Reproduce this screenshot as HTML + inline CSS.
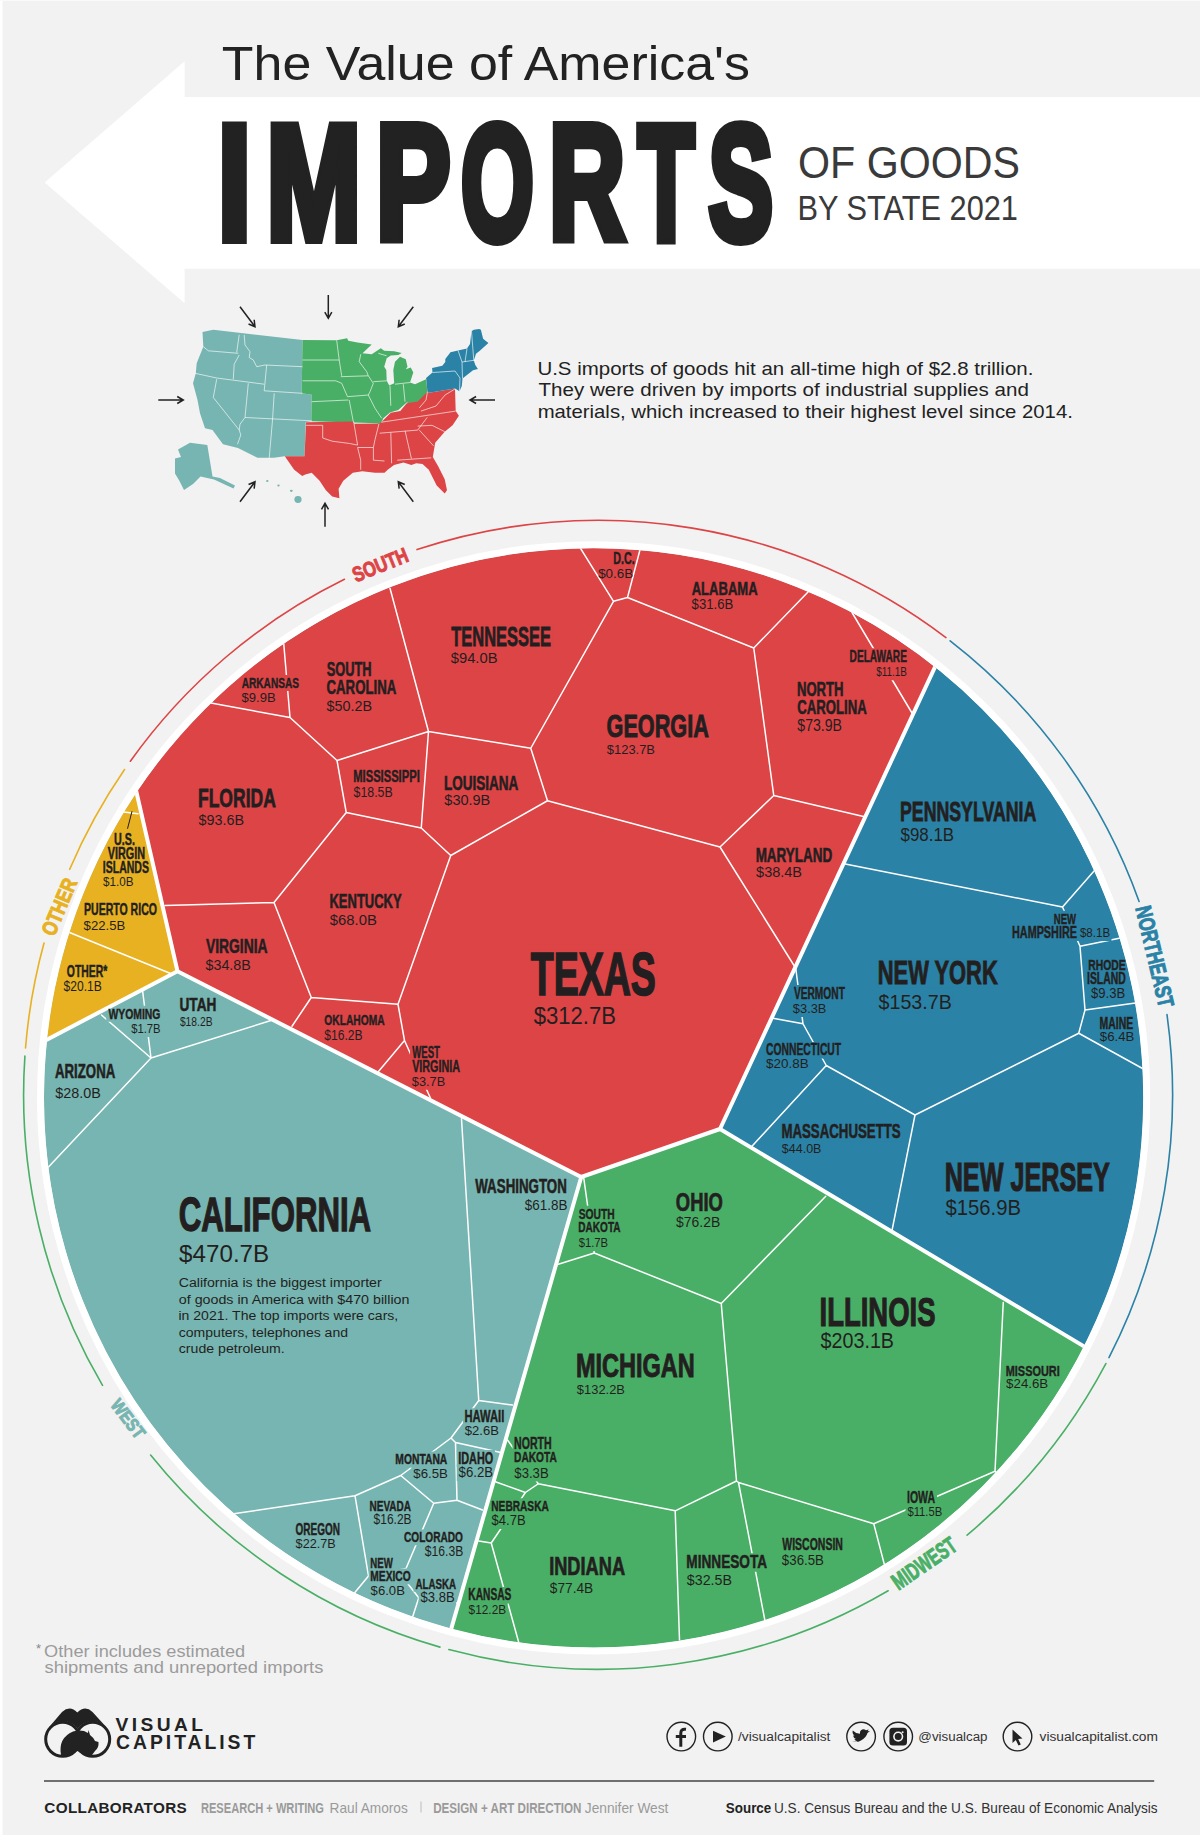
<!DOCTYPE html><html><head><meta charset="utf-8"><style>html,body{margin:0;padding:0;background:#f2f2f2;}svg{display:block;font-family:"Liberation Sans",sans-serif;}</style></head><body>
<svg width="1200" height="1835" viewBox="0 0 1200 1835">
<rect x="0" y="0" width="1200" height="1835" fill="#f2f2f2"/>
<rect x="0" y="0" width="2.5" height="1835" fill="#fff"/>
<rect x="0" y="0" width="1200" height="1" fill="#fafafa"/>
<polygon points="44.7,182.5 184.6,61.3 184.6,96.9 1200,96.9 1200,268.7 184.6,268.7 184.6,303.3" fill="#fff"/>
<text x="221.85" y="79.5" font-size="47.24" font-weight="normal" fill="#222" textLength="528" lengthAdjust="spacingAndGlyphs">The Value of America's</text>
<text x="217.87" y="238.6" font-size="163.08" font-weight="bold" fill="#222" textLength="33.37" lengthAdjust="spacingAndGlyphs" stroke="#222" stroke-width="10" paint-order="stroke" stroke-linejoin="miter">I</text>
<text x="266.6" y="238.6" font-size="163.08" font-weight="bold" fill="#222" textLength="94.59" lengthAdjust="spacingAndGlyphs" stroke="#222" stroke-width="10" paint-order="stroke" stroke-linejoin="miter">M</text>
<text x="375.92" y="238.6" font-size="163.08" font-weight="bold" fill="#222" textLength="74.61" lengthAdjust="spacingAndGlyphs" stroke="#222" stroke-width="10" paint-order="stroke" stroke-linejoin="miter">P</text>
<text x="461.06" y="238.6" font-size="163.08" font-weight="bold" fill="#222" textLength="72.88" lengthAdjust="spacingAndGlyphs" stroke="#222" stroke-width="10" paint-order="stroke" stroke-linejoin="miter">O</text>
<text x="549.06" y="238.6" font-size="163.08" font-weight="bold" fill="#222" textLength="76" lengthAdjust="spacingAndGlyphs" stroke="#222" stroke-width="10" paint-order="stroke" stroke-linejoin="miter">R</text>
<text x="638.06" y="238.6" font-size="163.08" font-weight="bold" fill="#222" textLength="56.33" lengthAdjust="spacingAndGlyphs" stroke="#222" stroke-width="10" paint-order="stroke" stroke-linejoin="miter">T</text>
<text x="708.61" y="238.6" font-size="163.08" font-weight="bold" fill="#222" textLength="64.57" lengthAdjust="spacingAndGlyphs" stroke="#222" stroke-width="10" paint-order="stroke" stroke-linejoin="miter">S</text>
<text x="798.05" y="177.5" font-size="43.61" font-weight="normal" fill="#3a3a3a" textLength="221.84" lengthAdjust="spacingAndGlyphs">OF GOODS</text>
<text x="797.54" y="220" font-size="34.88" font-weight="normal" fill="#3a3a3a" textLength="220.43" lengthAdjust="spacingAndGlyphs">BY STATE 2021</text>
<text x="537.42" y="374.7" font-size="17.73" font-weight="normal" fill="#222" textLength="495.95" lengthAdjust="spacingAndGlyphs">U.S imports of goods hit an all-time high of $2.8 trillion.</text>
<text x="538.54" y="396.2" font-size="17.73" font-weight="normal" fill="#222" textLength="490.29" lengthAdjust="spacingAndGlyphs">They were driven by imports of industrial supplies and</text>
<text x="537.65" y="417.5" font-size="17.73" font-weight="normal" fill="#222" textLength="535.2" lengthAdjust="spacingAndGlyphs">materials, which increased to their highest level since 2014.</text>
<polygon points="202.5,332 213.3,329.7 302.5,340 301.7,393.3 311.7,394.7 311.3,421.3 305.8,422 304.5,456.2 284.5,456.3 274,457.8 257.5,457.8 238,448 223,444.3 212.5,430 205,428.3 200,413.3 197.5,400 193,383.3 195.8,373.3 196.7,363.3 203.3,346.7" fill="#76b5b1"/>
<polygon points="302.5,340 336.7,340.3 347.1,338.3 348.3,340.8 357.5,342.5 371.7,344.6 362.5,353.3 371.7,354.2 380.8,348.3 384.2,350.8 394.2,351.3 401.7,352.9 398.3,355 390.8,355.4 386.7,358.3 384.2,366.7 386.3,370 386.7,380.8 389.2,385.4 394.2,383.3 393.3,370 395,361.7 400,356.7 405.8,359.2 407.5,366.7 405.8,369.2 410.8,367.5 413.3,372.5 410,382.5 415,384.2 426.1,379.2 427.5,391.7 420,402.5 413.3,404.2 406.7,402.5 398.3,410 390,412.5 383.3,418.3 380,425.8 377.5,423.3 353.3,422.5 311.3,421.3 311.7,394.7 301.7,393.3" fill="#4aaf66"/>
<polygon points="306.1,422.2 352.8,421.4 354.4,423.7 379,423.4 381.3,422.2 384.5,419 390.8,412.7 400.3,411.1 406.7,403.2 417.7,401.6 427.5,391.7 429.1,392.8 455,388.6 455.7,411.1 458.9,415.8 452.6,425.3 444.7,431.7 435.2,442.7 432.8,457 438.3,466.5 444.7,479.2 447,490.2 444.7,493.4 436.7,485.5 428.8,469.7 422.5,464.1 416.2,463.3 411.4,465 403.5,462.5 394,465 387.7,469.7 384.5,472.8 375,472.8 362.3,471.3 352.8,472.8 343.3,480.7 338.6,488.7 339.4,498.2 332.2,496.6 325.9,490.2 319.6,480.7 311.7,472.8 305.3,474.4 302.2,476 294.2,469.7 284.8,456.2 304.5,456.2" fill="#dd4446"/>
<polygon points="426.1,378.1 432.5,372.5 432.1,368 442.3,365.8 445.3,362 445.3,359 450.5,352.3 458,350.4 467,348.5 470,344 471.5,331.3 473.8,329.8 479,329 480.9,329.8 483.1,338.8 488.4,342.9 479.8,350.8 476,353.8 473.8,360.5 475.3,365 477.9,369.1 473,370.3 462.5,378.5 461.8,386 459.5,391.3 455,388.6 429.1,392.8 427.5,391.7" fill="#2a82a6"/>
<polygon points="178,449.5 190,442.8 207.3,445 212.5,476.5 220,478 235,485.5 233.5,488.5 214,479.5 200.5,476.5 193,484 184,490 179.5,481 175,473.5 175,458.5 181,457" fill="#76b5b1"/>
<ellipse cx="298" cy="499.5" rx="3.6" ry="3.4" fill="#76b5b1"/>
<ellipse cx="291.3" cy="490.8" rx="1.4" ry="1.1" fill="#76b5b1"/>
<ellipse cx="278.5" cy="485.5" rx="1.2" ry="0.9" fill="#76b5b1"/>
<ellipse cx="267.3" cy="481" rx="1.2" ry="0.9" fill="#76b5b1"/>
<polyline points="203.3,346.7 208.3,350.8 238.3,353.3" fill="none" stroke="#fff" stroke-width="0.7" opacity="0.9" stroke-linejoin="round"/>
<polyline points="239.2,334.7 236.7,352.5" fill="none" stroke="#fff" stroke-width="0.7" opacity="0.9" stroke-linejoin="round"/>
<polyline points="244.2,335 245,345 250,351.7 249.2,357.5 253.3,360 256.7,366.7 265,365" fill="none" stroke="#fff" stroke-width="0.7" opacity="0.9" stroke-linejoin="round"/>
<polyline points="239.2,355 234.2,364.2 233.3,379.2" fill="none" stroke="#fff" stroke-width="0.7" opacity="0.9" stroke-linejoin="round"/>
<polyline points="195,373.3 216.7,378 264.2,384.2" fill="none" stroke="#fff" stroke-width="0.7" opacity="0.9" stroke-linejoin="round"/>
<polyline points="265,365 302.5,366.7" fill="none" stroke="#fff" stroke-width="0.7" opacity="0.9" stroke-linejoin="round"/>
<polyline points="266.7,365 264.2,390.8 302.5,393.3" fill="none" stroke="#fff" stroke-width="0.7" opacity="0.9" stroke-linejoin="round"/>
<polyline points="216.7,379.2 213.3,397.5 239.2,430" fill="none" stroke="#fff" stroke-width="0.7" opacity="0.9" stroke-linejoin="round"/>
<polyline points="248.3,383.3 245,417.5 240,424.2 239.2,430 240.8,435 237.5,444.2" fill="none" stroke="#fff" stroke-width="0.7" opacity="0.9" stroke-linejoin="round"/>
<polyline points="274.2,393.3 272.5,420 269.2,458.3" fill="none" stroke="#fff" stroke-width="0.7" opacity="0.9" stroke-linejoin="round"/>
<polyline points="245,417.5 311.7,420.8" fill="none" stroke="#fff" stroke-width="0.7" opacity="0.9" stroke-linejoin="round"/>
<polyline points="302.5,360 339.2,360" fill="none" stroke="#fff" stroke-width="0.7" opacity="0.9" stroke-linejoin="round"/>
<polyline points="336.7,340.3 339.2,360 341.7,375.8" fill="none" stroke="#fff" stroke-width="0.7" opacity="0.9" stroke-linejoin="round"/>
<polyline points="302.5,380.8 335.8,380.8 341.7,383.3" fill="none" stroke="#fff" stroke-width="0.7" opacity="0.9" stroke-linejoin="round"/>
<polyline points="340.8,376.7 368.3,375.8" fill="none" stroke="#fff" stroke-width="0.7" opacity="0.9" stroke-linejoin="round"/>
<polyline points="341.7,383.3 347.5,396.7" fill="none" stroke="#fff" stroke-width="0.7" opacity="0.9" stroke-linejoin="round"/>
<polyline points="311.7,401.7 348.3,400" fill="none" stroke="#fff" stroke-width="0.7" opacity="0.9" stroke-linejoin="round"/>
<polyline points="349.2,400 353.3,421.7" fill="none" stroke="#fff" stroke-width="0.7" opacity="0.9" stroke-linejoin="round"/>
<polyline points="347.5,396.7 368.3,395" fill="none" stroke="#fff" stroke-width="0.7" opacity="0.9" stroke-linejoin="round"/>
<polyline points="360.8,354.2 359.2,361.7 366.7,371.7 368.3,375.8 373.3,383.3 370,391.7 368.3,395" fill="none" stroke="#fff" stroke-width="0.7" opacity="0.9" stroke-linejoin="round"/>
<polyline points="373.3,381.7 386.7,380.8" fill="none" stroke="#fff" stroke-width="0.7" opacity="0.9" stroke-linejoin="round"/>
<polyline points="368.3,395 375,408.3 381.7,418.3" fill="none" stroke="#fff" stroke-width="0.7" opacity="0.9" stroke-linejoin="round"/>
<polyline points="390,385.8 390.8,405.8" fill="none" stroke="#fff" stroke-width="0.7" opacity="0.9" stroke-linejoin="round"/>
<polyline points="403.3,384.2 405,401.7" fill="none" stroke="#fff" stroke-width="0.7" opacity="0.9" stroke-linejoin="round"/>
<polyline points="395,384.2 410,382.5" fill="none" stroke="#fff" stroke-width="0.7" opacity="0.9" stroke-linejoin="round"/>
<polyline points="378.3,353.3 386.7,355.8" fill="none" stroke="#fff" stroke-width="0.7" opacity="0.9" stroke-linejoin="round"/>
<polyline points="306.1,425.3 322.7,425.3 322.7,438 332.2,441.2 349.7,443.5 357.6,445.1" fill="none" stroke="#fff" stroke-width="0.7" opacity="0.9" stroke-linejoin="round"/>
<polyline points="353.6,421.4 357.6,445.1" fill="none" stroke="#fff" stroke-width="0.7" opacity="0.9" stroke-linejoin="round"/>
<polyline points="357.6,447.5 373.4,447.5" fill="none" stroke="#fff" stroke-width="0.7" opacity="0.9" stroke-linejoin="round"/>
<polyline points="357.6,447.5 360.7,460.2 360.7,469.7" fill="none" stroke="#fff" stroke-width="0.7" opacity="0.9" stroke-linejoin="round"/>
<polyline points="379,423.7 375,439.6 373.4,447.5 373.4,460.2 384.5,461" fill="none" stroke="#fff" stroke-width="0.7" opacity="0.9" stroke-linejoin="round"/>
<polyline points="390.8,432.5 391.6,463.3" fill="none" stroke="#fff" stroke-width="0.7" opacity="0.9" stroke-linejoin="round"/>
<polyline points="405.1,430.9 411.4,458.6" fill="none" stroke="#fff" stroke-width="0.7" opacity="0.9" stroke-linejoin="round"/>
<polyline points="397.2,460.2 431.2,457.8" fill="none" stroke="#fff" stroke-width="0.7" opacity="0.9" stroke-linejoin="round"/>
<polyline points="381.3,422.2 455.7,411.1" fill="none" stroke="#fff" stroke-width="0.7" opacity="0.9" stroke-linejoin="round"/>
<polyline points="379.7,433.2 417.7,430.1" fill="none" stroke="#fff" stroke-width="0.7" opacity="0.9" stroke-linejoin="round"/>
<polyline points="417.7,430.1 427.2,417.4" fill="none" stroke="#fff" stroke-width="0.7" opacity="0.9" stroke-linejoin="round"/>
<polyline points="417.7,426.1 432,425.3 444.7,431.7" fill="none" stroke="#fff" stroke-width="0.7" opacity="0.9" stroke-linejoin="round"/>
<polyline points="419.3,430.1 433.6,445.9" fill="none" stroke="#fff" stroke-width="0.7" opacity="0.9" stroke-linejoin="round"/>
<polyline points="419.3,407.9 426,400 427.5,391.7" fill="none" stroke="#fff" stroke-width="0.7" opacity="0.9" stroke-linejoin="round"/>
<polyline points="420.9,411.1 436,406 445,395 455,389" fill="none" stroke="#fff" stroke-width="0.7" opacity="0.9" stroke-linejoin="round"/>
<polyline points="432.5,372.5 455,371 460,378 459.5,391" fill="none" stroke="#fff" stroke-width="0.7" opacity="0.9" stroke-linejoin="round"/>
<polyline points="458,350.4 462,362 462.5,378.5" fill="none" stroke="#fff" stroke-width="0.7" opacity="0.9" stroke-linejoin="round"/>
<polyline points="462,362 476,360" fill="none" stroke="#fff" stroke-width="0.7" opacity="0.9" stroke-linejoin="round"/>
<polyline points="467,348.5 465,362" fill="none" stroke="#fff" stroke-width="0.7" opacity="0.9" stroke-linejoin="round"/>
<polyline points="471.5,331.3 473.8,360.5" fill="none" stroke="#fff" stroke-width="0.7" opacity="0.9" stroke-linejoin="round"/>
<path d="M240 306.7 L255 326.7 M248.56 323.95 L255 326.7 L254.16 319.75" fill="none" stroke="#222" stroke-width="1.5" stroke-linecap="butt" stroke-linejoin="miter"/>
<path d="M328.3 295 L328.3 318.3 M324.8 312.24 L328.3 318.3 L331.8 312.24" fill="none" stroke="#222" stroke-width="1.5" stroke-linecap="butt" stroke-linejoin="miter"/>
<path d="M413.3 306.7 L398.3 326.7 M399.14 319.75 L398.3 326.7 L404.74 323.95" fill="none" stroke="#222" stroke-width="1.5" stroke-linecap="butt" stroke-linejoin="miter"/>
<path d="M158.3 400 L183.3 400 M177.24 403.5 L183.3 400 L177.24 396.5" fill="none" stroke="#222" stroke-width="1.5" stroke-linecap="butt" stroke-linejoin="miter"/>
<path d="M495 400 L470 400 M476.06 396.5 L470 400 L476.06 403.5" fill="none" stroke="#222" stroke-width="1.5" stroke-linecap="butt" stroke-linejoin="miter"/>
<path d="M240 501.7 L255 481.7 M254.16 488.65 L255 481.7 L248.56 484.45" fill="none" stroke="#222" stroke-width="1.5" stroke-linecap="butt" stroke-linejoin="miter"/>
<path d="M325 526.7 L325 503.3 M328.5 509.36 L325 503.3 L321.5 509.36" fill="none" stroke="#222" stroke-width="1.5" stroke-linecap="butt" stroke-linejoin="miter"/>
<path d="M413.3 501.7 L398.3 481.7 M404.74 484.45 L398.3 481.7 L399.14 488.65" fill="none" stroke="#222" stroke-width="1.5" stroke-linecap="butt" stroke-linejoin="miter"/>
<defs><clipPath id="cc"><circle cx="593.6" cy="1097.8" r="549.8"/></clipPath></defs>
<g clip-path="url(#cc)">
<rect x="0" y="500" width="1200" height="1200" fill="#76b5b1"/>
<polygon points="177.5,971.25 69.24,498.83 0,500 0,1100 -219.5,1179.2" fill="#e8b122"/>
<polygon points="177.5,971.25 69.24,498.83 400,300 1200,300 1061.58,395.01 720,1129 581.25,1177" fill="#dd4446"/>
<polygon points="720,1129 1061.58,395.01 1300,500 1300,1500 1341.31,1500.08" fill="#2a82a6"/>
<polygon points="581.25,1177 720,1129 1341.31,1500.08 1200,1900 400,1900 368.29,1917.05" fill="#4aaf66"/>
<path d="M283.75 643.75L290 717.5M290 717.5L211 703M290 717.5L337 760.5M337 760.5L428.5 731.5M428.5 731.5L390 588.3M337 760.5L346.25 812.5M428.5 731.5L421.25 828M346.25 812.5L421.25 828M421.25 828L450.75 855.5M428.5 731.5L530.75 748.25M530.75 748.25L547.5 800.75M450.75 855.5L547.5 800.75M530.75 748.25L613.5 601.3M613.5 601.3L580.5 548.3M613.5 601.3L627.5 597.5M627.5 597.5L640 549.7M627.5 597.5L753.75 648M753.75 648L808 592M753.75 648L773.75 795.5M773.75 795.5L863.5 816.5M773.75 795.5L720 847M547.5 800.75L720 847M720 847L794.5 966.25M852 612.5L912 713M346.25 812.5L274 902.5M274 902.5L165 905.5M274 902.5L311.25 997.5M311.25 997.5L292 1026.25M311.25 997.5L398 1004.25M450.75 855.5L398 1004.25M398 1004.25L404.5 1040.5M404.5 1040.5L378.25 1071.75M404.5 1040.5L430.5 1098.25M142.5 990L151 1058M101.5 1015L151 1058M151 1058L48 1167.5M151 1058L271 1020.5M461.5 1118.75L478.75 1400.5M478.75 1400.5L512.5 1405M478.75 1400.5L451 1438M451 1438L455.5 1442.5M455.5 1442.5L499.75 1452.25M451 1438L400.75 1475.5M400.75 1475.5L355 1495.75M355 1495.75L233.75 1513.75M400.75 1475.5L433.75 1503.25M433.75 1503.25L457 1500.25M455.5 1442.5L457 1500.25M457 1500.25L482.5 1510M355 1495.75L368.5 1576M368.5 1576L354.25 1593.25M433.75 1503.25L406 1568.5M368.5 1576L406 1568.5M406 1568.5L408.25 1584.25M408.25 1584.25L418.75 1597.75M418.75 1597.75L412.75 1616.5M418.75 1597.75L456.25 1603M583.75 1178L594.25 1253M594.25 1253L557.5 1264.5M594.25 1253L721.25 1303.5M721.25 1303.5L825.75 1196.25M721.25 1303.5L736.5 1481M736.5 1481L738.5 1482.5M736.5 1481L675.2 1510.8M675.2 1510.8L679.5 1640M675.2 1510.8L538.3 1483.75M538.3 1483.75L525.4 1492.5M525.4 1492.5L495.4 1481.7M507.5 1440L538.3 1483.75M525.4 1492.5L491.25 1543M491.25 1543L478.75 1541M491.25 1543L518.75 1642.5M738.5 1482.5L765 1621M738.5 1482.5L873.75 1523.75M873.75 1523.75L884.5 1565M873.75 1523.75L995 1471.25M995 1471.25L1003.25 1302.5M995 1471.25L998 1475M844 863.75L1062.5 907M1062.5 907L1094.5 870.5M1062.5 907L1080 946.25M1080 946.25L1120.5 938M1080 946.25L1085 1010M1085 1010L1135.5 1003M1085 1010L1078.75 1033.25M1078.75 1033.25L1143 1068.75M1078.75 1033.25L915 1115M915 1115L892 1230.5M915 1115L826.25 1065.5M826.25 1065.5L751.25 1147M826.25 1065.5L803 1023.75M803 1023.75L773 1018.25M803 1023.75L799.5 997.5M799.5 997.5L795.5 966.25M123.75 812L138 813.75M69.5 932.5L171.25 973.75" fill="none" stroke="#fff" stroke-width="1.5" stroke-linecap="round"/>
<rect x="239.75" y="675" width="61" height="16" fill="#dd4446"/><rect x="239.75" y="690" width="37.25" height="16" fill="#dd4446"/><rect x="324.75" y="660" width="48.25" height="19.25" fill="#dd4446"/><rect x="324.75" y="677.25" width="73.5" height="20" fill="#dd4446"/><rect x="324.75" y="698.25" width="48.5" height="17" fill="#dd4446"/><rect x="196.75" y="786.5" width="81" height="24" fill="#dd4446"/><rect x="196.75" y="811.5" width="48.5" height="17.5" fill="#dd4446"/><rect x="351.75" y="768.25" width="69.5" height="17.25" fill="#dd4446"/><rect x="351.75" y="784.5" width="42.25" height="16.5" fill="#dd4446"/><rect x="328" y="892" width="75.75" height="19.75" fill="#dd4446"/><rect x="328" y="911.5" width="50" height="17" fill="#dd4446"/><rect x="449" y="624.3" width="103.7" height="24.7" fill="#dd4446"/><rect x="449" y="649.3" width="49.7" height="17.4" fill="#dd4446"/><rect x="442.5" y="773.25" width="77.75" height="19.75" fill="#dd4446"/><rect x="442.5" y="791.5" width="49" height="17" fill="#dd4446"/><rect x="605" y="712.5" width="105.75" height="27.5" fill="#dd4446"/><rect x="605" y="741.5" width="51.25" height="16.25" fill="#dd4446"/><rect x="528.4" y="949.7" width="128.9" height="49.3" fill="#dd4446"/><rect x="532" y="1005" width="84.7" height="23.3" fill="#dd4446"/><rect x="689.75" y="579.5" width="69.75" height="18.5" fill="#dd4446"/><rect x="689.75" y="596.25" width="44.75" height="17" fill="#dd4446"/><rect x="848" y="648.25" width="60.75" height="17.25" fill="#dd4446"/><rect x="874.25" y="664" width="34" height="16.25" fill="#dd4446"/><rect x="795.5" y="680" width="49.5" height="19.25" fill="#dd4446"/><rect x="795.5" y="698.25" width="73.25" height="19" fill="#dd4446"/><rect x="795.5" y="717.5" width="47.75" height="17.75" fill="#dd4446"/><rect x="754.25" y="846.25" width="79.75" height="19.25" fill="#dd4446"/><rect x="754.25" y="864.5" width="49" height="16.5" fill="#dd4446"/><rect x="203.75" y="937.75" width="65.75" height="19" fill="#dd4446"/><rect x="203.75" y="957" width="48.25" height="16.5" fill="#dd4446"/><rect x="322.5" y="1012.5" width="64" height="16" fill="#dd4446"/><rect x="322.5" y="1027.5" width="41.5" height="16.5" fill="#dd4446"/><rect x="410" y="1044.5" width="32" height="16.5" fill="#dd4446"/><rect x="410" y="1058.25" width="52" height="16.5" fill="#dd4446"/><rect x="410" y="1074" width="36.5" height="15.75" fill="#dd4446"/><rect x="898.75" y="799.5" width="139.5" height="24.75" fill="#2a82a6"/><rect x="898.75" y="825" width="56.5" height="19.75" fill="#2a82a6"/><rect x="1052.25" y="910.75" width="26" height="16" fill="#2a82a6"/><rect x="1010.5" y="924.5" width="68.25" height="16.5" fill="#2a82a6"/><rect x="1078" y="925" width="33.5" height="16" fill="#2a82a6"/><rect x="1086.75" y="957" width="40.75" height="16" fill="#2a82a6"/><rect x="1085.5" y="970" width="42" height="16.75" fill="#2a82a6"/><rect x="1089.25" y="985.75" width="37.25" height="16.5" fill="#2a82a6"/><rect x="1098" y="1015.25" width="37" height="16.5" fill="#2a82a6"/><rect x="876.75" y="958.25" width="123.25" height="29" fill="#2a82a6"/><rect x="876.75" y="992" width="76" height="20.75" fill="#2a82a6"/><rect x="791.75" y="985" width="55.25" height="17.25" fill="#2a82a6"/><rect x="791" y="1000.75" width="36.75" height="16.25" fill="#2a82a6"/><rect x="764.25" y="1042" width="79" height="16.5" fill="#2a82a6"/><rect x="764.25" y="1055.75" width="45.75" height="16.25" fill="#2a82a6"/><rect x="780" y="1122" width="122.5" height="19.75" fill="#2a82a6"/><rect x="780" y="1140.75" width="42.75" height="15.75" fill="#2a82a6"/><rect x="943.75" y="1160" width="168.25" height="34.25" fill="#2a82a6"/><rect x="943.75" y="1197" width="78.25" height="22" fill="#2a82a6"/><rect x="674.25" y="1190.75" width="50.25" height="23.5" fill="#4aaf66"/><rect x="674.25" y="1214" width="47.25" height="17" fill="#4aaf66"/><rect x="818.75" y="1294.5" width="118.25" height="34.75" fill="#4aaf66"/><rect x="818.75" y="1329.5" width="76.25" height="22" fill="#4aaf66"/><rect x="1004.25" y="1362.75" width="57" height="16" fill="#4aaf66"/><rect x="1004.25" y="1376.5" width="45.25" height="15.75" fill="#4aaf66"/><rect x="576.75" y="1205.75" width="39.5" height="16" fill="#4aaf66"/><rect x="576.75" y="1219.5" width="45.75" height="16" fill="#4aaf66"/><rect x="576.75" y="1235" width="32.75" height="16" fill="#4aaf66"/><rect x="575" y="1351.5" width="120.75" height="29" fill="#4aaf66"/><rect x="575" y="1381.5" width="51.25" height="16.25" fill="#4aaf66"/><rect x="512.5" y="1435" width="40.75" height="16.75" fill="#4aaf66"/><rect x="512.5" y="1449.5" width="46.25" height="16" fill="#4aaf66"/><rect x="512.5" y="1465" width="37.5" height="16.5" fill="#4aaf66"/><rect x="489.75" y="1498.25" width="61" height="16" fill="#4aaf66"/><rect x="489.75" y="1512.5" width="37.25" height="16.5" fill="#4aaf66"/><rect x="548" y="1554.5" width="79" height="23.5" fill="#4aaf66"/><rect x="548" y="1579" width="46.5" height="17.5" fill="#4aaf66"/><rect x="685" y="1553.25" width="84" height="18.5" fill="#4aaf66"/><rect x="685" y="1572" width="48.25" height="16.5" fill="#4aaf66"/><rect x="466.75" y="1587" width="46.5" height="16.5" fill="#4aaf66"/><rect x="466.75" y="1602" width="40.75" height="15.75" fill="#4aaf66"/><rect x="905.5" y="1489.5" width="31.5" height="16.5" fill="#4aaf66"/><rect x="905.5" y="1504.5" width="38.25" height="15.75" fill="#4aaf66"/><rect x="780" y="1536.5" width="64.5" height="17" fill="#4aaf66"/><rect x="780" y="1552" width="45.25" height="16.5" fill="#4aaf66"/><rect x="473" y="1177.5" width="95.25" height="19.25" fill="#76b5b1"/><rect x="523" y="1197" width="45.75" height="17" fill="#76b5b1"/><rect x="463" y="1408.25" width="42.75" height="16.75" fill="#76b5b1"/><rect x="463" y="1423.25" width="37.25" height="15.75" fill="#76b5b1"/><rect x="456.75" y="1450" width="38.25" height="16.75" fill="#76b5b1"/><rect x="456.75" y="1464.5" width="37.75" height="16.5" fill="#76b5b1"/><rect x="393.8" y="1451.5" width="55.45" height="16" fill="#76b5b1"/><rect x="411.5" y="1466.5" width="37.75" height="15.25" fill="#76b5b1"/><rect x="368" y="1498.7" width="45" height="15.5" fill="#76b5b1"/><rect x="371.75" y="1511.5" width="41.25" height="16.75" fill="#76b5b1"/><rect x="402.2" y="1529.5" width="62.5" height="15.75" fill="#76b5b1"/><rect x="423" y="1543" width="41.7" height="16.5" fill="#76b5b1"/><rect x="368.75" y="1555" width="26.25" height="15.75" fill="#76b5b1"/><rect x="368.75" y="1568.5" width="43.75" height="15.75" fill="#76b5b1"/><rect x="368.75" y="1582.75" width="37.45" height="16" fill="#76b5b1"/><rect x="413.5" y="1576" width="44.5" height="15.75" fill="#76b5b1"/><rect x="418.7" y="1589.5" width="37.3" height="16.75" fill="#76b5b1"/><rect x="293.75" y="1521.25" width="47.75" height="16.75" fill="#76b5b1"/><rect x="293.75" y="1535.75" width="43.25" height="16.25" fill="#76b5b1"/><rect x="178" y="995.75" width="39.75" height="18.5" fill="#76b5b1"/><rect x="178" y="1015" width="36" height="15.25" fill="#76b5b1"/><rect x="106.25" y="1005.75" width="55.75" height="16" fill="#76b5b1"/><rect x="129.25" y="1020.75" width="32.75" height="16.25" fill="#76b5b1"/><rect x="53" y="1061.75" width="64.25" height="20" fill="#76b5b1"/><rect x="53.4" y="1085" width="48.6" height="16.5" fill="#76b5b1"/><rect x="177.4" y="1194.5" width="195.6" height="40.4" fill="#76b5b1"/><rect x="177.4" y="1242.4" width="92.5" height="23.3" fill="#76b5b1"/><rect x="112.5" y="832" width="24" height="16.5" fill="#e8b122"/><rect x="105.5" y="845.75" width="41" height="16.75" fill="#e8b122"/><rect x="101.25" y="859.5" width="49.5" height="16.5" fill="#e8b122"/><rect x="101.25" y="874.5" width="33.75" height="15.75" fill="#e8b122"/><rect x="82.5" y="901.25" width="76.25" height="16.75" fill="#e8b122"/><rect x="81.75" y="918.25" width="44.75" height="15.25" fill="#e8b122"/><rect x="65" y="963.25" width="44.5" height="16.75" fill="#e8b122"/><rect x="61.75" y="978.25" width="41.5" height="17" fill="#e8b122"/>
<path d="M69.24 498.83L177.5 971.25M177.5 971.25L-219.5 1179.2M177.5 971.25L581.25 1177M581.25 1177L720 1129M720 1129L1061.58 395.01M720 1129L1341.31 1500.08M581.25 1177L368.29 1917.05" fill="none" stroke="#fff" stroke-width="4" stroke-linejoin="round"/>
</g>
<circle cx="593.6" cy="1097.8" r="553.0999999999999" fill="none" stroke="#fff" stroke-width="7"/>
<text x="241.72" y="687.78" font-size="15.35" font-weight="bold" fill="#231f20" textLength="57.21" lengthAdjust="spacingAndGlyphs" stroke="#231f20" stroke-width="0.44" paint-order="stroke" stroke-linejoin="miter">ARKANSAS</text>
<text x="241.61" y="702" font-size="13.08" font-weight="normal" fill="#231f20" textLength="34.08" lengthAdjust="spacingAndGlyphs">$9.9B</text>
<text x="326.67" y="675.97" font-size="19.88" font-weight="bold" fill="#231f20" textLength="44.91" lengthAdjust="spacingAndGlyphs" stroke="#231f20" stroke-width="0.5700000000000001" paint-order="stroke" stroke-linejoin="miter">SOUTH</text>
<text x="326.51" y="693.95" font-size="20.93" font-weight="bold" fill="#231f20" textLength="69.79" lengthAdjust="spacingAndGlyphs" stroke="#231f20" stroke-width="0.6" paint-order="stroke" stroke-linejoin="miter">CAROLINA</text>
<text x="326.6" y="711.25" font-size="14.54" font-weight="normal" fill="#231f20" textLength="45.41" lengthAdjust="spacingAndGlyphs">$50.2B</text>
<text x="197.95" y="807.12" font-size="26.23" font-weight="bold" fill="#231f20" textLength="77.88" lengthAdjust="spacingAndGlyphs" stroke="#231f20" stroke-width="0.752" paint-order="stroke" stroke-linejoin="miter">FLORIDA</text>
<text x="198.6" y="825" font-size="15.26" font-weight="normal" fill="#231f20" textLength="45.41" lengthAdjust="spacingAndGlyphs">$93.6B</text>
<text x="353.25" y="782.25" font-size="17.09" font-weight="bold" fill="#231f20" textLength="66.51" lengthAdjust="spacingAndGlyphs" stroke="#231f20" stroke-width="0.49" paint-order="stroke" stroke-linejoin="miter">MISSISSIPPI</text>
<text x="353.62" y="797" font-size="13.81" font-weight="normal" fill="#231f20" textLength="39.03" lengthAdjust="spacingAndGlyphs">$18.5B</text>
<text x="329.43" y="908.46" font-size="20.58" font-weight="bold" fill="#231f20" textLength="72.24" lengthAdjust="spacingAndGlyphs" stroke="#231f20" stroke-width="0.59" paint-order="stroke" stroke-linejoin="miter">KENTUCKY</text>
<text x="329.84" y="924.5" font-size="14.54" font-weight="normal" fill="#231f20" textLength="46.94" lengthAdjust="spacingAndGlyphs">$68.0B</text>
<text x="451.21" y="645.61" font-size="27.21" font-weight="bold" fill="#231f20" textLength="99.75" lengthAdjust="spacingAndGlyphs" stroke="#231f20" stroke-width="0.78" paint-order="stroke" stroke-linejoin="miter">TENNESSEE</text>
<text x="450.84" y="662.7" font-size="15.12" font-weight="normal" fill="#231f20" textLength="46.63" lengthAdjust="spacingAndGlyphs">$94.0B</text>
<text x="613.31" y="564.47" font-size="16.05" font-weight="bold" fill="#231f20" textLength="21.39" lengthAdjust="spacingAndGlyphs" stroke="#231f20" stroke-width="0.46" paint-order="stroke" stroke-linejoin="miter">D.C.</text>
<text x="598.16" y="577.8" font-size="13.23" font-weight="normal" fill="#231f20" textLength="35.05" lengthAdjust="spacingAndGlyphs">$0.6B</text>
<text x="443.89" y="789.71" font-size="20.58" font-weight="bold" fill="#231f20" textLength="74.42" lengthAdjust="spacingAndGlyphs" stroke="#231f20" stroke-width="0.59" paint-order="stroke" stroke-linejoin="miter">LOUISIANA</text>
<text x="444.34" y="804.5" font-size="14.54" font-weight="normal" fill="#231f20" textLength="45.92" lengthAdjust="spacingAndGlyphs">$30.9B</text>
<text x="606.56" y="736.55" font-size="31.12" font-weight="bold" fill="#231f20" textLength="102.32" lengthAdjust="spacingAndGlyphs" stroke="#231f20" stroke-width="0.892" paint-order="stroke" stroke-linejoin="miter">GEORGIA</text>
<text x="606.86" y="753.75" font-size="13.44" font-weight="normal" fill="#231f20" textLength="48.07" lengthAdjust="spacingAndGlyphs">$123.7B</text>
<text x="530.84" y="995.13" font-size="60.42" font-weight="bold" fill="#231f20" textLength="125.05" lengthAdjust="spacingAndGlyphs" stroke="#231f20" stroke-width="1.732" paint-order="stroke" stroke-linejoin="miter">TEXAS</text>
<text x="533.76" y="1024.3" font-size="23.69" font-weight="normal" fill="#231f20" textLength="82.1" lengthAdjust="spacingAndGlyphs">$312.7B</text>
<text x="691.7" y="594.73" font-size="18.84" font-weight="bold" fill="#231f20" textLength="65.88" lengthAdjust="spacingAndGlyphs" stroke="#231f20" stroke-width="0.54" paint-order="stroke" stroke-linejoin="miter">ALABAMA</text>
<text x="691.61" y="609.25" font-size="14.54" font-weight="normal" fill="#231f20" textLength="41.58" lengthAdjust="spacingAndGlyphs">$31.6B</text>
<text x="849.58" y="662.25" font-size="17.09" font-weight="bold" fill="#231f20" textLength="57.31" lengthAdjust="spacingAndGlyphs" stroke="#231f20" stroke-width="0.49" paint-order="stroke" stroke-linejoin="miter">DELAWARE</text>
<text x="876.15" y="676.25" font-size="13.44" font-weight="normal" fill="#231f20" textLength="30.61" lengthAdjust="spacingAndGlyphs">$11.1B</text>
<text x="796.91" y="695.97" font-size="19.88" font-weight="bold" fill="#231f20" textLength="46.69" lengthAdjust="spacingAndGlyphs" stroke="#231f20" stroke-width="0.5700000000000001" paint-order="stroke" stroke-linejoin="miter">NORTH</text>
<text x="797.24" y="713.97" font-size="19.54" font-weight="bold" fill="#231f20" textLength="69.58" lengthAdjust="spacingAndGlyphs" stroke="#231f20" stroke-width="0.56" paint-order="stroke" stroke-linejoin="miter">CAROLINA</text>
<text x="797.35" y="731.25" font-size="15.63" font-weight="normal" fill="#231f20" textLength="44.64" lengthAdjust="spacingAndGlyphs">$73.9B</text>
<text x="755.64" y="862.22" font-size="19.88" font-weight="bold" fill="#231f20" textLength="76.64" lengthAdjust="spacingAndGlyphs" stroke="#231f20" stroke-width="0.5700000000000001" paint-order="stroke" stroke-linejoin="miter">MARYLAND</text>
<text x="756.09" y="877" font-size="13.81" font-weight="normal" fill="#231f20" textLength="45.92" lengthAdjust="spacingAndGlyphs">$38.4B</text>
<text x="205.94" y="953.47" font-size="19.54" font-weight="bold" fill="#231f20" textLength="61.65" lengthAdjust="spacingAndGlyphs" stroke="#231f20" stroke-width="0.56" paint-order="stroke" stroke-linejoin="miter">VIRGINIA</text>
<text x="205.6" y="969.5" font-size="13.81" font-weight="normal" fill="#231f20" textLength="45.15" lengthAdjust="spacingAndGlyphs">$34.8B</text>
<text x="324.3" y="1025.28" font-size="15.35" font-weight="bold" fill="#231f20" textLength="60.25" lengthAdjust="spacingAndGlyphs" stroke="#231f20" stroke-width="0.44" paint-order="stroke" stroke-linejoin="miter">OKLAHOMA</text>
<text x="324.37" y="1040" font-size="13.81" font-weight="normal" fill="#231f20" textLength="38.27" lengthAdjust="spacingAndGlyphs">$16.2B</text>
<text x="412.22" y="1057.77" font-size="16.05" font-weight="bold" fill="#231f20" textLength="27.65" lengthAdjust="spacingAndGlyphs" stroke="#231f20" stroke-width="0.46" paint-order="stroke" stroke-linejoin="miter">WEST</text>
<text x="412.16" y="1071.52" font-size="16.05" font-weight="bold" fill="#231f20" textLength="47.9" lengthAdjust="spacingAndGlyphs" stroke="#231f20" stroke-width="0.46" paint-order="stroke" stroke-linejoin="miter">VIRGINIA</text>
<text x="411.86" y="1085.75" font-size="12.72" font-weight="normal" fill="#231f20" textLength="33.31" lengthAdjust="spacingAndGlyphs">$3.7B</text>
<text x="899.98" y="820.86" font-size="27.28" font-weight="bold" fill="#231f20" textLength="136.34" lengthAdjust="spacingAndGlyphs" stroke="#231f20" stroke-width="0.782" paint-order="stroke" stroke-linejoin="miter">PENNSYLVANIA</text>
<text x="900.57" y="840.75" font-size="18.53" font-weight="normal" fill="#231f20" textLength="53.57" lengthAdjust="spacingAndGlyphs">$98.1B</text>
<text x="1053.83" y="923.53" font-size="15.35" font-weight="bold" fill="#231f20" textLength="22.21" lengthAdjust="spacingAndGlyphs" stroke="#231f20" stroke-width="0.44" paint-order="stroke" stroke-linejoin="miter">NEW</text>
<text x="1012.01" y="937.77" font-size="16.05" font-weight="bold" fill="#231f20" textLength="64.94" lengthAdjust="spacingAndGlyphs" stroke="#231f20" stroke-width="0.46" paint-order="stroke" stroke-linejoin="miter">HAMPSHIRE</text>
<text x="1079.88" y="937" font-size="13.08" font-weight="normal" fill="#231f20" textLength="30.23" lengthAdjust="spacingAndGlyphs">$8.1B</text>
<text x="1088.28" y="969.78" font-size="15.35" font-weight="bold" fill="#231f20" textLength="37.41" lengthAdjust="spacingAndGlyphs" stroke="#231f20" stroke-width="0.44" paint-order="stroke" stroke-linejoin="miter">RHODE</text>
<text x="1087.04" y="983.51" font-size="16.4" font-weight="bold" fill="#231f20" textLength="38.66" lengthAdjust="spacingAndGlyphs" stroke="#231f20" stroke-width="0.47000000000000003" paint-order="stroke" stroke-linejoin="miter">ISLAND</text>
<text x="1091.11" y="998.25" font-size="13.81" font-weight="normal" fill="#231f20" textLength="34.08" lengthAdjust="spacingAndGlyphs">$9.3B</text>
<text x="1099.53" y="1028.52" font-size="16.05" font-weight="bold" fill="#231f20" textLength="33.65" lengthAdjust="spacingAndGlyphs" stroke="#231f20" stroke-width="0.46" paint-order="stroke" stroke-linejoin="miter">MAINE</text>
<text x="1099.86" y="1041.25" font-size="12.72" font-weight="normal" fill="#231f20" textLength="34.59" lengthAdjust="spacingAndGlyphs">$6.4B</text>
<text x="877.77" y="983.77" font-size="33.21" font-weight="bold" fill="#231f20" textLength="119.96" lengthAdjust="spacingAndGlyphs" stroke="#231f20" stroke-width="0.9520000000000001" paint-order="stroke" stroke-linejoin="miter">NEW YORK</text>
<text x="878.54" y="1008.75" font-size="19.99" font-weight="normal" fill="#231f20" textLength="73.25" lengthAdjust="spacingAndGlyphs">$153.7B</text>
<text x="793.93" y="999" font-size="17.09" font-weight="bold" fill="#231f20" textLength="50.94" lengthAdjust="spacingAndGlyphs" stroke="#231f20" stroke-width="0.49" paint-order="stroke" stroke-linejoin="miter">VERMONT</text>
<text x="792.86" y="1013" font-size="13.44" font-weight="normal" fill="#231f20" textLength="33.57" lengthAdjust="spacingAndGlyphs">$3.3B</text>
<text x="766.06" y="1055.27" font-size="16.05" font-weight="bold" fill="#231f20" textLength="75.07" lengthAdjust="spacingAndGlyphs" stroke="#231f20" stroke-width="0.46" paint-order="stroke" stroke-linejoin="miter">CONNECTICUT</text>
<text x="766.11" y="1068" font-size="13.44" font-weight="normal" fill="#231f20" textLength="42.6" lengthAdjust="spacingAndGlyphs">$20.8B</text>
<text x="781.41" y="1138.45" font-size="20.58" font-weight="bold" fill="#231f20" textLength="119.31" lengthAdjust="spacingAndGlyphs" stroke="#231f20" stroke-width="0.59" paint-order="stroke" stroke-linejoin="miter">MASSACHUSETTS</text>
<text x="781.87" y="1152.5" font-size="12.72" font-weight="normal" fill="#231f20" textLength="39.54" lengthAdjust="spacingAndGlyphs">$44.0B</text>
<text x="944.65" y="1190.67" font-size="40.54" font-weight="bold" fill="#231f20" textLength="165.18" lengthAdjust="spacingAndGlyphs" stroke="#231f20" stroke-width="1.1620000000000001" paint-order="stroke" stroke-linejoin="miter">NEW JERSEY</text>
<text x="945.53" y="1215" font-size="21.8" font-weight="normal" fill="#231f20" textLength="75.54" lengthAdjust="spacingAndGlyphs">$156.9B</text>
<text x="675.86" y="1210.88" font-size="25.54" font-weight="bold" fill="#231f20" textLength="47.05" lengthAdjust="spacingAndGlyphs" stroke="#231f20" stroke-width="0.7320000000000001" paint-order="stroke" stroke-linejoin="miter">OHIO</text>
<text x="676.1" y="1227" font-size="14.54" font-weight="normal" fill="#231f20" textLength="44.13" lengthAdjust="spacingAndGlyphs">$76.2B</text>
<text x="819.5" y="1325.66" font-size="41.23" font-weight="bold" fill="#231f20" textLength="115.98" lengthAdjust="spacingAndGlyphs" stroke="#231f20" stroke-width="1.1820000000000002" paint-order="stroke" stroke-linejoin="miter">ILLINOIS</text>
<text x="820.54" y="1347.5" font-size="21.8" font-weight="normal" fill="#231f20" textLength="73.5" lengthAdjust="spacingAndGlyphs">$203.1B</text>
<text x="1005.74" y="1375.53" font-size="15.35" font-weight="bold" fill="#231f20" textLength="54.02" lengthAdjust="spacingAndGlyphs" stroke="#231f20" stroke-width="0.44" paint-order="stroke" stroke-linejoin="miter">MISSOURI</text>
<text x="1006.11" y="1388.25" font-size="12.72" font-weight="normal" fill="#231f20" textLength="42.09" lengthAdjust="spacingAndGlyphs">$24.6B</text>
<text x="578.67" y="1218.53" font-size="15.35" font-weight="bold" fill="#231f20" textLength="36.05" lengthAdjust="spacingAndGlyphs" stroke="#231f20" stroke-width="0.44" paint-order="stroke" stroke-linejoin="miter">SOUTH</text>
<text x="578.31" y="1232.28" font-size="15.35" font-weight="bold" fill="#231f20" textLength="42.23" lengthAdjust="spacingAndGlyphs" stroke="#231f20" stroke-width="0.44" paint-order="stroke" stroke-linejoin="miter">DAKOTA</text>
<text x="578.63" y="1247" font-size="13.08" font-weight="normal" fill="#231f20" textLength="29.47" lengthAdjust="spacingAndGlyphs">$1.7B</text>
<text x="575.9" y="1377.02" font-size="33.21" font-weight="bold" fill="#231f20" textLength="118.96" lengthAdjust="spacingAndGlyphs" stroke="#231f20" stroke-width="0.9520000000000001" paint-order="stroke" stroke-linejoin="miter">MICHIGAN</text>
<text x="576.86" y="1393.75" font-size="13.44" font-weight="normal" fill="#231f20" textLength="48.07" lengthAdjust="spacingAndGlyphs">$132.2B</text>
<text x="514.03" y="1448.52" font-size="16.4" font-weight="bold" fill="#231f20" textLength="37.7" lengthAdjust="spacingAndGlyphs" stroke="#231f20" stroke-width="0.47000000000000003" paint-order="stroke" stroke-linejoin="miter">NORTH</text>
<text x="514.05" y="1462.28" font-size="15.35" font-weight="bold" fill="#231f20" textLength="42.74" lengthAdjust="spacingAndGlyphs" stroke="#231f20" stroke-width="0.44" paint-order="stroke" stroke-linejoin="miter">DAKOTA</text>
<text x="514.36" y="1477.5" font-size="13.81" font-weight="normal" fill="#231f20" textLength="34.33" lengthAdjust="spacingAndGlyphs">$3.3B</text>
<text x="491.29" y="1511.03" font-size="15.35" font-weight="bold" fill="#231f20" textLength="57.51" lengthAdjust="spacingAndGlyphs" stroke="#231f20" stroke-width="0.44" paint-order="stroke" stroke-linejoin="miter">NEBRASKA</text>
<text x="491.61" y="1525" font-size="13.81" font-weight="normal" fill="#231f20" textLength="34.08" lengthAdjust="spacingAndGlyphs">$4.7B</text>
<text x="549.15" y="1574.63" font-size="25.54" font-weight="bold" fill="#231f20" textLength="75.97" lengthAdjust="spacingAndGlyphs" stroke="#231f20" stroke-width="0.7320000000000001" paint-order="stroke" stroke-linejoin="miter">INDIANA</text>
<text x="549.85" y="1592.5" font-size="15.26" font-weight="normal" fill="#231f20" textLength="43.37" lengthAdjust="spacingAndGlyphs">$77.4B</text>
<text x="686.37" y="1568.48" font-size="18.84" font-weight="bold" fill="#231f20" textLength="80.71" lengthAdjust="spacingAndGlyphs" stroke="#231f20" stroke-width="0.54" paint-order="stroke" stroke-linejoin="miter">MINNESOTA</text>
<text x="686.85" y="1584.5" font-size="13.81" font-weight="normal" fill="#231f20" textLength="45.15" lengthAdjust="spacingAndGlyphs">$32.5B</text>
<text x="468.3" y="1600.27" font-size="16.05" font-weight="bold" fill="#231f20" textLength="43.12" lengthAdjust="spacingAndGlyphs" stroke="#231f20" stroke-width="0.46" paint-order="stroke" stroke-linejoin="miter">KANSAS</text>
<text x="468.62" y="1613.75" font-size="12.72" font-weight="normal" fill="#231f20" textLength="37.5" lengthAdjust="spacingAndGlyphs">$12.2B</text>
<text x="907.04" y="1502.77" font-size="16.05" font-weight="bold" fill="#231f20" textLength="28" lengthAdjust="spacingAndGlyphs" stroke="#231f20" stroke-width="0.46" paint-order="stroke" stroke-linejoin="miter">IOWA</text>
<text x="907.38" y="1516.25" font-size="12.72" font-weight="normal" fill="#231f20" textLength="34.95" lengthAdjust="spacingAndGlyphs">$11.5B</text>
<text x="782.23" y="1550.26" font-size="16.74" font-weight="bold" fill="#231f20" textLength="60.74" lengthAdjust="spacingAndGlyphs" stroke="#231f20" stroke-width="0.48" paint-order="stroke" stroke-linejoin="miter">WISCONSIN</text>
<text x="781.86" y="1564.5" font-size="13.81" font-weight="normal" fill="#231f20" textLength="42.09" lengthAdjust="spacingAndGlyphs">$36.5B</text>
<text x="475.27" y="1193.46" font-size="19.88" font-weight="bold" fill="#231f20" textLength="91.58" lengthAdjust="spacingAndGlyphs" stroke="#231f20" stroke-width="0.5700000000000001" paint-order="stroke" stroke-linejoin="miter">WASHINGTON</text>
<text x="524.86" y="1210" font-size="14.54" font-weight="normal" fill="#231f20" textLength="42.6" lengthAdjust="spacingAndGlyphs">$61.8B</text>
<text x="464.51" y="1421.77" font-size="16.4" font-weight="bold" fill="#231f20" textLength="39.73" lengthAdjust="spacingAndGlyphs" stroke="#231f20" stroke-width="0.47000000000000003" paint-order="stroke" stroke-linejoin="miter">HAWAII</text>
<text x="464.86" y="1435" font-size="12.72" font-weight="normal" fill="#231f20" textLength="34.08" lengthAdjust="spacingAndGlyphs">$2.6B</text>
<text x="458.26" y="1463.52" font-size="16.4" font-weight="bold" fill="#231f20" textLength="34.96" lengthAdjust="spacingAndGlyphs" stroke="#231f20" stroke-width="0.47000000000000003" paint-order="stroke" stroke-linejoin="miter">IDAHO</text>
<text x="458.61" y="1477" font-size="13.81" font-weight="normal" fill="#231f20" textLength="34.59" lengthAdjust="spacingAndGlyphs">$6.2B</text>
<text x="395.34" y="1464.28" font-size="15.35" font-weight="bold" fill="#231f20" textLength="51.96" lengthAdjust="spacingAndGlyphs" stroke="#231f20" stroke-width="0.44" paint-order="stroke" stroke-linejoin="miter">MONTANA</text>
<text x="413.36" y="1477.75" font-size="11.99" font-weight="normal" fill="#231f20" textLength="34.59" lengthAdjust="spacingAndGlyphs">$6.5B</text>
<text x="369.55" y="1510.99" font-size="14.65" font-weight="bold" fill="#231f20" textLength="41.5" lengthAdjust="spacingAndGlyphs" stroke="#231f20" stroke-width="0.42" paint-order="stroke" stroke-linejoin="miter">NEVADA</text>
<text x="373.62" y="1524.25" font-size="14.17" font-weight="normal" fill="#231f20" textLength="38.01" lengthAdjust="spacingAndGlyphs">$16.2B</text>
<text x="404" y="1542.04" font-size="15" font-weight="bold" fill="#231f20" textLength="58.91" lengthAdjust="spacingAndGlyphs" stroke="#231f20" stroke-width="0.43" paint-order="stroke" stroke-linejoin="miter">COLORADO</text>
<text x="424.87" y="1555.5" font-size="13.81" font-weight="normal" fill="#231f20" textLength="38.47" lengthAdjust="spacingAndGlyphs">$16.3B</text>
<text x="370.32" y="1567.54" font-size="15" font-weight="bold" fill="#231f20" textLength="22.47" lengthAdjust="spacingAndGlyphs" stroke="#231f20" stroke-width="0.43" paint-order="stroke" stroke-linejoin="miter">NEW</text>
<text x="370.28" y="1581.04" font-size="15" font-weight="bold" fill="#231f20" textLength="40.44" lengthAdjust="spacingAndGlyphs" stroke="#231f20" stroke-width="0.43" paint-order="stroke" stroke-linejoin="miter">MEXICO</text>
<text x="370.61" y="1594.75" font-size="13.08" font-weight="normal" fill="#231f20" textLength="34.28" lengthAdjust="spacingAndGlyphs">$6.0B</text>
<text x="415.47" y="1588.54" font-size="15" font-weight="bold" fill="#231f20" textLength="40.57" lengthAdjust="spacingAndGlyphs" stroke="#231f20" stroke-width="0.43" paint-order="stroke" stroke-linejoin="miter">ALASKA</text>
<text x="420.56" y="1602.25" font-size="14.17" font-weight="normal" fill="#231f20" textLength="34.13" lengthAdjust="spacingAndGlyphs">$3.8B</text>
<text x="295.58" y="1534.77" font-size="16.4" font-weight="bold" fill="#231f20" textLength="44.36" lengthAdjust="spacingAndGlyphs" stroke="#231f20" stroke-width="0.47000000000000003" paint-order="stroke" stroke-linejoin="miter">OREGON</text>
<text x="295.61" y="1548" font-size="13.44" font-weight="normal" fill="#231f20" textLength="40.05" lengthAdjust="spacingAndGlyphs">$22.7B</text>
<text x="179.47" y="1010.98" font-size="18.84" font-weight="bold" fill="#231f20" textLength="36.9" lengthAdjust="spacingAndGlyphs" stroke="#231f20" stroke-width="0.54" paint-order="stroke" stroke-linejoin="miter">UTAH</text>
<text x="179.89" y="1026.25" font-size="11.99" font-weight="normal" fill="#231f20" textLength="32.65" lengthAdjust="spacingAndGlyphs">$18.2B</text>
<text x="108.46" y="1018.53" font-size="15.35" font-weight="bold" fill="#231f20" textLength="51.96" lengthAdjust="spacingAndGlyphs" stroke="#231f20" stroke-width="0.44" paint-order="stroke" stroke-linejoin="miter">WYOMING</text>
<text x="131.13" y="1033" font-size="13.44" font-weight="normal" fill="#231f20" textLength="29.47" lengthAdjust="spacingAndGlyphs">$1.7B</text>
<text x="54.97" y="1078.45" font-size="20.93" font-weight="bold" fill="#231f20" textLength="60.33" lengthAdjust="spacingAndGlyphs" stroke="#231f20" stroke-width="0.6" paint-order="stroke" stroke-linejoin="miter">ARIZONA</text>
<text x="55.25" y="1097.5" font-size="13.81" font-weight="normal" fill="#231f20" textLength="45.51" lengthAdjust="spacingAndGlyphs">$28.0B</text>
<text x="178.81" y="1231.21" font-size="48" font-weight="bold" fill="#231f20" textLength="192.33" lengthAdjust="spacingAndGlyphs" stroke="#231f20" stroke-width="1.376" paint-order="stroke" stroke-linejoin="miter">CALIFORNIA</text>
<text x="179.14" y="1261.7" font-size="23.69" font-weight="normal" fill="#231f20" textLength="90.03" lengthAdjust="spacingAndGlyphs">$470.7B</text>
<text x="114.08" y="845.27" font-size="16.05" font-weight="bold" fill="#231f20" textLength="20.93" lengthAdjust="spacingAndGlyphs" stroke="#231f20" stroke-width="0.46" paint-order="stroke" stroke-linejoin="miter">U.S.</text>
<text x="107.66" y="859.26" font-size="16.4" font-weight="bold" fill="#231f20" textLength="37.33" lengthAdjust="spacingAndGlyphs" stroke="#231f20" stroke-width="0.47000000000000003" paint-order="stroke" stroke-linejoin="miter">VIRGIN</text>
<text x="102.78" y="872.77" font-size="16.05" font-weight="bold" fill="#231f20" textLength="46.15" lengthAdjust="spacingAndGlyphs" stroke="#231f20" stroke-width="0.46" paint-order="stroke" stroke-linejoin="miter">ISLANDS</text>
<text x="103.12" y="886.25" font-size="12.72" font-weight="normal" fill="#231f20" textLength="30.49" lengthAdjust="spacingAndGlyphs">$1.0B</text>
<text x="84.03" y="914.76" font-size="16.4" font-weight="bold" fill="#231f20" textLength="72.92" lengthAdjust="spacingAndGlyphs" stroke="#231f20" stroke-width="0.47000000000000003" paint-order="stroke" stroke-linejoin="miter">PUERTO RICO</text>
<text x="83.61" y="929.5" font-size="11.99" font-weight="normal" fill="#231f20" textLength="41.58" lengthAdjust="spacingAndGlyphs">$22.5B</text>
<text x="66.81" y="976.76" font-size="16.4" font-weight="bold" fill="#231f20" textLength="40.47" lengthAdjust="spacingAndGlyphs" stroke="#231f20" stroke-width="0.47000000000000003" paint-order="stroke" stroke-linejoin="miter">OTHER*</text>
<text x="63.62" y="991.25" font-size="14.54" font-weight="normal" fill="#231f20" textLength="38.27" lengthAdjust="spacingAndGlyphs">$20.1B</text>
<text x="178.68" y="1287.1" font-size="13.66" font-weight="normal" fill="#231f20" textLength="203.05" lengthAdjust="spacingAndGlyphs">California is the biggest importer</text>
<text x="178.8" y="1303.75" font-size="13.66" font-weight="normal" fill="#231f20" textLength="230.62" lengthAdjust="spacingAndGlyphs">of goods in America with $470 billion</text>
<text x="178.46" y="1320.4" font-size="13.66" font-weight="normal" fill="#231f20" textLength="219.8" lengthAdjust="spacingAndGlyphs">in 2021. The top imports were cars,</text>
<text x="178.8" y="1336.7" font-size="13.66" font-weight="normal" fill="#231f20" textLength="169.2" lengthAdjust="spacingAndGlyphs">computers, telephones and</text>
<text x="178.8" y="1353.3" font-size="13.66" font-weight="normal" fill="#231f20" textLength="105.99" lengthAdjust="spacingAndGlyphs">crude petroleum.</text>
<line x1="132" y1="811.25" x2="127.5" y2="828.75" stroke="#231f20" stroke-width="1"/>
<path d="M130.35 761.25 A574.5 574.5 0 0 1 344.42 579.34" fill="none" stroke="#dd4446" stroke-width="1.6" stroke-linecap="round"/>
<path d="M417.03 549.58 A574.5 574.5 0 0 1 945.94 637.57" fill="none" stroke="#dd4446" stroke-width="1.6" stroke-linecap="round"/>
<path d="M950.15 640.81 A574.5 574.5 0 0 1 1139.08 901.44" fill="none" stroke="#2a82a6" stroke-width="1.6" stroke-linecap="round"/>
<path d="M1166.98 1014.66 A574.5 574.5 0 0 1 1108.96 1357.61" fill="none" stroke="#2a82a6" stroke-width="1.6" stroke-linecap="round"/>
<path d="M1105.87 1363.55 A574.5 574.5 0 0 1 967.1 1535.12" fill="none" stroke="#4aaf66" stroke-width="1.6" stroke-linecap="round"/>
<path d="M888.13 1590.72 A574.5 574.5 0 0 1 448.85 1649.57" fill="none" stroke="#4aaf66" stroke-width="1.6" stroke-linecap="round"/>
<path d="M439.97 1647.11 A574.5 574.5 0 0 1 150.59 1455.06" fill="none" stroke="#4aaf66" stroke-width="1.6" stroke-linecap="round"/>
<path d="M102.52 1385.41 A574.5 574.5 0 0 1 24.91 1055.95" fill="none" stroke="#4aaf66" stroke-width="1.6" stroke-linecap="round"/>
<path d="M25.51 1047.99 A574.5 574.5 0 0 1 44.02 943" fill="none" stroke="#e8b122" stroke-width="1.6" stroke-linecap="round"/>
<path d="M69.71 869.3 A574.5 574.5 0 0 1 124.55 769.53" fill="none" stroke="#e8b122" stroke-width="1.6" stroke-linecap="round"/>
<text transform="translate(380 565) rotate(-22)" x="-28.73" y="7.25" font-size="21.08" font-weight="bold" fill="#dd4446" stroke="#dd4446" stroke-width="1" textLength="58.1" lengthAdjust="spacingAndGlyphs">SOUTH</text>
<text transform="translate(1154.9 957) rotate(76.6)" x="-52.11" y="7.75" font-size="22.53" font-weight="bold" fill="#2a82a6" stroke="#2a82a6" stroke-width="1" textLength="103.29" lengthAdjust="spacingAndGlyphs">NORTHEAST</text>
<text transform="translate(924.5 1563) rotate(-34.7)" x="-37.04" y="8" font-size="23.26" font-weight="bold" fill="#4aaf66" stroke="#4aaf66" stroke-width="1" textLength="73.2" lengthAdjust="spacingAndGlyphs">MIDWEST</text>
<text transform="translate(128 1418.7) rotate(53)" x="-22.01" y="6.25" font-size="18.17" font-weight="bold" fill="#76b5b1" stroke="#76b5b1" stroke-width="1" textLength="44.18" lengthAdjust="spacingAndGlyphs">WEST</text>
<text transform="translate(59.3 906.7) rotate(-67)" x="-30.2" y="7.25" font-size="21.08" font-weight="bold" fill="#e8b122" stroke="#e8b122" stroke-width="1" textLength="60.06" lengthAdjust="spacingAndGlyphs">OTHER</text>
<text x="36" y="1653" font-size="13" fill="#888">*</text>
<text x="44.14" y="1657.3" font-size="16.42" font-weight="normal" fill="#9b9b9b" textLength="201.03" lengthAdjust="spacingAndGlyphs">Other includes estimated</text>
<text x="44.49" y="1673.3" font-size="16.42" font-weight="normal" fill="#9b9b9b" textLength="278.88" lengthAdjust="spacingAndGlyphs">shipments and unreported imports</text>
<g fill="#222">
<circle cx="62.7" cy="1739.3" r="17" fill="none" stroke="#222" stroke-width="3"/>
<circle cx="92.7" cy="1739.3" r="17" fill="none" stroke="#222" stroke-width="3"/>
<path d="M48.76 1727.6 L62 1712 Q70 1705 77.3 1712.5 Q85 1705 92.5 1712 L106.64 1727.6 L105.79 1726.66 L104.88 1725.77 L103.91 1724.96 L102.88 1724.21 L101.8 1723.54 L100.68 1722.94 L99.52 1722.43 L98.32 1721.99 L97.1 1721.64 L95.86 1721.38 L94.6 1721.2 L93.34 1721.11 L92.06 1721.11 L90.8 1721.2 L89.54 1721.38 L88.3 1721.64 L87.08 1721.99 L85.88 1722.43 L84.72 1722.94 L83.6 1723.54 L82.52 1724.21 L81.49 1724.96 L80.52 1725.77 L79.61 1726.66 L78.76 1727.6 L77.98 1728.6 L77.27 1729.66 L76.63 1730.76 L77.7 1729.3 L78.77 1730.76 L78.13 1729.66 L77.42 1728.6 L76.64 1727.6 L75.79 1726.66 L74.88 1725.77 L73.91 1724.96 L72.88 1724.21 L71.8 1723.54 L70.68 1722.94 L69.52 1722.43 L68.32 1721.99 L67.1 1721.64 L65.86 1721.38 L64.6 1721.2 L63.34 1721.11 L62.06 1721.11 L60.8 1721.2 L59.54 1721.38 L58.3 1721.64 L57.08 1721.99 L55.88 1722.43 L54.72 1722.94 L53.6 1723.54 L52.52 1724.21 L51.49 1724.96 L50.52 1725.77 L49.61 1726.66 L48.76 1727.6 Z"/>
<path d="M61 1755 Q58 1738 73 1731.5 Q82 1729 88 1733 L88.5 1730 L90 1735 Q94 1738 95 1741 L98.5 1742 Q99 1748 95 1751 L92 1755 Q85 1756 77.3 1751 Q70 1757 61 1755 Z"/>
</g>
<text x="115.47" y="1731" font-size="19.19" font-weight="bold" fill="#222" letter-spacing="3.45">VISUAL</text>
<text x="116.11" y="1749" font-size="19.33" font-weight="bold" fill="#222" letter-spacing="2.97">CAPITALIST</text>
<circle cx="681.3" cy="1736.6" r="14.3" fill="none" stroke="#222" stroke-width="1.4"/>
<circle cx="717.8" cy="1736.6" r="14.3" fill="none" stroke="#222" stroke-width="1.4"/>
<circle cx="861.1" cy="1736.6" r="14.3" fill="none" stroke="#222" stroke-width="1.4"/>
<circle cx="898.2" cy="1736.6" r="14.3" fill="none" stroke="#222" stroke-width="1.4"/>
<circle cx="1017.5" cy="1736.6" r="14.3" fill="none" stroke="#222" stroke-width="1.4"/>
<path d="M680.8 1746.8 V1733.2 Q680.8 1729 685 1729.2 L686 1729.3 M675.8 1736.5 H686" fill="none" stroke="#222" stroke-width="3"/>
<polygon points="713,1730.8 713,1742.4 725.8,1736.6" fill="#222"/>
<path d="M852 1741.5 Q857 1743 861 1740.5 Q866 1738 867.5 1733 L870 1731 L867.5 1731.2 L868.8 1729.5 L866 1730.3 Q863.5 1728.5 861 1730.2 Q859.5 1731.5 860 1733.8 Q855.5 1733.5 852.8 1730.5 Q851.8 1733.5 854.5 1735.8 L853 1735.5 Q853.5 1738 856 1739 L854.3 1739.2 Q855.5 1741 857.8 1741.2 Q855.3 1742.3 852 1741.5 Z" fill="#222"/>
<rect x="889.4" y="1727.8" width="17.6" height="17.6" rx="3.5" fill="#222"/><circle cx="898.2" cy="1736.6" r="4.3" fill="none" stroke="#f2f2f2" stroke-width="1.6"/><circle cx="902.6" cy="1732.2" r="1" fill="#f2f2f2"/>
<path d="M1012.5 1729.5 L1012.5 1743 L1015.8 1740 L1018.5 1745.5 L1020.8 1744.5 L1018.2 1739 L1022.5 1738.5 Z" fill="#222"/>
<text x="738" y="1740.8" font-size="13.52" font-weight="normal" fill="#333" textLength="92.4" lengthAdjust="spacingAndGlyphs">/visualcapitalist</text>
<text x="918.35" y="1740.8" font-size="13.52" font-weight="normal" fill="#333" textLength="69.21" lengthAdjust="spacingAndGlyphs">@visualcap</text>
<text x="1039.55" y="1740.8" font-size="13.52" font-weight="normal" fill="#333" textLength="118.35" lengthAdjust="spacingAndGlyphs">visualcapitalist.com</text>
<rect x="44" y="1780" width="1110.2" height="2" fill="#6f6f6f"/>
<text x="44.37" y="1813" font-size="15.26" font-weight="bold" fill="#222" letter-spacing="0.33">COLLABORATORS</text>
<text x="200.96" y="1812.7" font-size="15.12" font-weight="bold" fill="#9a9a9a" textLength="123.03" lengthAdjust="spacingAndGlyphs">RESEARCH + WRITING</text>
<text x="329.59" y="1812.7" font-size="15.12" font-weight="normal" fill="#9a9a9a" textLength="78.2" lengthAdjust="spacingAndGlyphs">Raul Amoros</text>
<rect x="420.5" y="1801.5" width="1" height="11" fill="#bbb"/>
<text x="433.23" y="1812.7" font-size="15.12" font-weight="bold" fill="#9a9a9a" textLength="148.25" lengthAdjust="spacingAndGlyphs">DESIGN + ART DIRECTION</text>
<text x="584.79" y="1812.7" font-size="15.12" font-weight="normal" fill="#9a9a9a" textLength="83.61" lengthAdjust="spacingAndGlyphs">Jennifer West</text>
<text x="725.86" y="1813" font-size="15.12" font-weight="bold" fill="#222" textLength="45.39" lengthAdjust="spacingAndGlyphs">Source</text>
<text x="773.95" y="1813" font-size="15.12" font-weight="normal" fill="#333" textLength="383.64" lengthAdjust="spacingAndGlyphs">U.S. Census Bureau and the U.S. Bureau of Economic Analysis</text>
</svg></body></html>
